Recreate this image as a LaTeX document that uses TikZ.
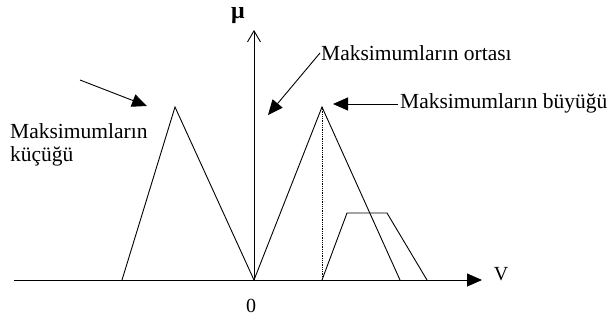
\documentclass[tikz,border=0pt]{standalone}
\usepackage{fontspec}
\setmainfont{Liberation Serif}
\usetikzlibrary{arrows.meta}
\tikzset{
  ln/.style={line width=0.9pt, black},
  filltip/.style={ln, -{Triangle[length=15pt,width=13pt]}},
  lbl/.style={font=\fontsize{21.5}{22}\selectfont, inner sep=0pt, anchor=base west},
}
\begin{document}
\begin{tikzpicture}[x=1pt,y=-1pt]
\useasboundingbox (0,0) rectangle (614,322);
% axes
\coordinate (hs) at (14,280);
\coordinate (he) at (482,280);
\coordinate (o) at (254,280);
\coordinate (vt) at (254,30);
\draw[filltip] (hs) -- (he);
\draw[ln, -{Straight Barb[length=11pt,width=13pt]}] (o) -- (vt);
\node[font=\fontsize{24}{24}\selectfont\bfseries, inner sep=0pt] (mu) at (238,16) {μ};
\node[font=\fontsize{20}{22}\selectfont, inner sep=0pt] (v) at (501,274) {V};
\node[font=\fontsize{20}{22}\selectfont, inner sep=0pt] (zero) at (251,306) {0};
% left triangle
\coordinate (l1) at (122,280);
\coordinate (lp) at (175,107);
\draw[ln] (l1) -- (lp) -- (o);
% middle triangle
\coordinate (mp) at (322,107);
\coordinate (m2) at (400,280);
\coordinate (mb) at (322,280);
\draw[ln] (o) -- (mp) -- (m2);
\draw[line width=0.8pt, densely dotted] (mp) -- (mb);
% trapezoid
\coordinate (t2) at (347,213);
\coordinate (t3) at (387,213);
\coordinate (t4) at (427,280);
\draw[ln] (mb) -- (t2) -- (t3) -- (t4);
% labels
\node[lbl] (kl1) at (10,138) {Maksimumların};
\node[lbl] (kl2) at (10,161) {küçüğü};
\node[lbl] (orl) at (321,60) {Maksimumların ortası};
\node[lbl] (byl) at (400,108) {Maksimumların büyüğü};
% arrows
\coordinate (a1s) at (80,80);
\coordinate (a1e) at (147,106);
\draw[filltip] (a1s) -- (a1e);
\coordinate (a2s) at (320,53);
\coordinate (a2e) at (268,115);
\draw[filltip] (a2s) -- (a2e);
\coordinate (a3s) at (398,104);
\coordinate (a3e) at (333,104);
\draw[filltip] (a3s) -- (a3e);
\end{tikzpicture}
\end{document}
